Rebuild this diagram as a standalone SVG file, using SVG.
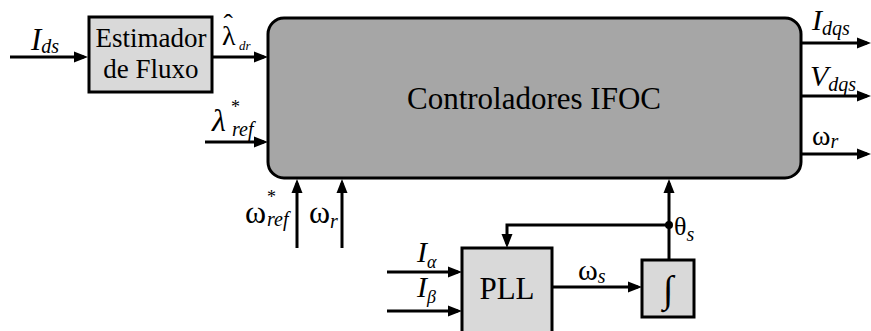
<svg xmlns="http://www.w3.org/2000/svg" width="871" height="331" viewBox="0 0 871 331" font-family="'Liberation Serif', 'Times New Roman', serif">
<defs>
<style>
.blk{stroke:#000;stroke-width:3}
.lt{fill:#d9d9d9}
.dk{fill:#a6a6a6}
.ln{fill:none;stroke:#000;stroke-width:3;marker-end:url(#ah)}
text{font-family:'Liberation Serif','Times New Roman',serif;fill:#000}
.it{font-style:italic}
.c{text-anchor:middle}
</style>
<marker id="ah" markerUnits="userSpaceOnUse" markerWidth="14" markerHeight="12" refX="10" refY="6" orient="auto">
<path d="M0,0.5 L14,6 L0,11.5 Z" fill="#000"/>
</marker>
</defs>
<g id="connectors">
<line class="ln" x1="10" y1="57" x2="84" y2="57"/>
<line class="ln" x1="213" y1="57" x2="264" y2="57"/>
<line class="ln" x1="205" y1="142" x2="264" y2="142"/>
<line class="ln" x1="801" y1="43" x2="867" y2="43"/>
<line class="ln" x1="801" y1="96" x2="867" y2="96"/>
<line class="ln" x1="801" y1="154" x2="867" y2="154"/>
<line class="ln" x1="297" y1="248" x2="297" y2="183"/>
<line class="ln" x1="342" y1="248" x2="342" y2="183"/>
<line class="ln" x1="669" y1="260" x2="669" y2="183"/>
<path class="ln" d="M669,225 H507 V244"/>
<line class="ln" x1="387" y1="272" x2="458" y2="272"/>
<line class="ln" x1="387" y1="311" x2="458" y2="311"/>
<line class="ln" x1="552" y1="287" x2="638" y2="287"/>
<circle cx="669" cy="225" r="4" fill="#000"/>
</g>
<g id="estimador">
<rect class="blk lt" x="89" y="17" width="123" height="75"/>
<text class="c" x="151" y="47" font-size="27">Estimador</text>
<text class="c" x="151" y="78" font-size="27">de Fluxo</text>
</g>
<g id="ifoc">
<rect class="blk dk" x="268" y="18" width="533" height="160" rx="16"/>
<text class="c" x="534" y="109" font-size="31">Controladores IFOC</text>
</g>
<g id="pll">
<rect class="blk lt" x="462" y="248" width="90" height="90"/>
<text class="c" x="507" y="299" font-size="31">PLL</text>
</g>
<g id="integrador">
<rect class="blk lt" x="642" y="260" width="52" height="57"/>
<text class="c" x="668" y="302" font-size="38">∫</text>
</g>
<g id="labels">
<text class="it" x="31" y="50" font-size="31">I<tspan font-size="20" dy="3">ds</tspan></text>
<text x="222" y="45" font-size="28">λ<tspan dx="-12" dy="-12">ˆ</tspan><tspan class="it" font-size="13" dx="6" dy="17">dr</tspan></text>
<text class="it" x="212" y="131" font-size="32">λ</text>
<text x="231" y="113" font-size="18">*</text>
<text class="it" x="232" y="136" font-size="20">ref</text>
<text class="it" x="812" y="30" font-size="30">I<tspan font-size="20" dy="5">dqs</tspan></text>
<text class="it" x="810" y="86" font-size="30">V<tspan font-size="20" dy="5">dqs</tspan></text>
<text x="812" y="145" font-size="28">ω<tspan class="it" font-size="20" dy="3">r</tspan></text>
<text x="245" y="223" font-size="32">ω</text>
<text x="267" y="203" font-size="18">*</text>
<text class="it" x="267" y="226" font-size="20">ref</text>
<text x="309" y="223" font-size="32">ω<tspan class="it" font-size="20" dy="5">r</tspan></text>
<text class="it" x="417" y="262" font-size="30">I<tspan font-size="18" dy="6">α</tspan></text>
<text class="it" x="417" y="297" font-size="30">I<tspan font-size="18" dy="6">β</tspan></text>
<text x="578" y="280" font-size="30">ω<tspan class="it" font-size="20" dy="3">s</tspan></text>
<text x="674" y="235" font-size="26">θ<tspan class="it" font-size="20" dy="6">s</tspan></text>
</g>
</svg>
